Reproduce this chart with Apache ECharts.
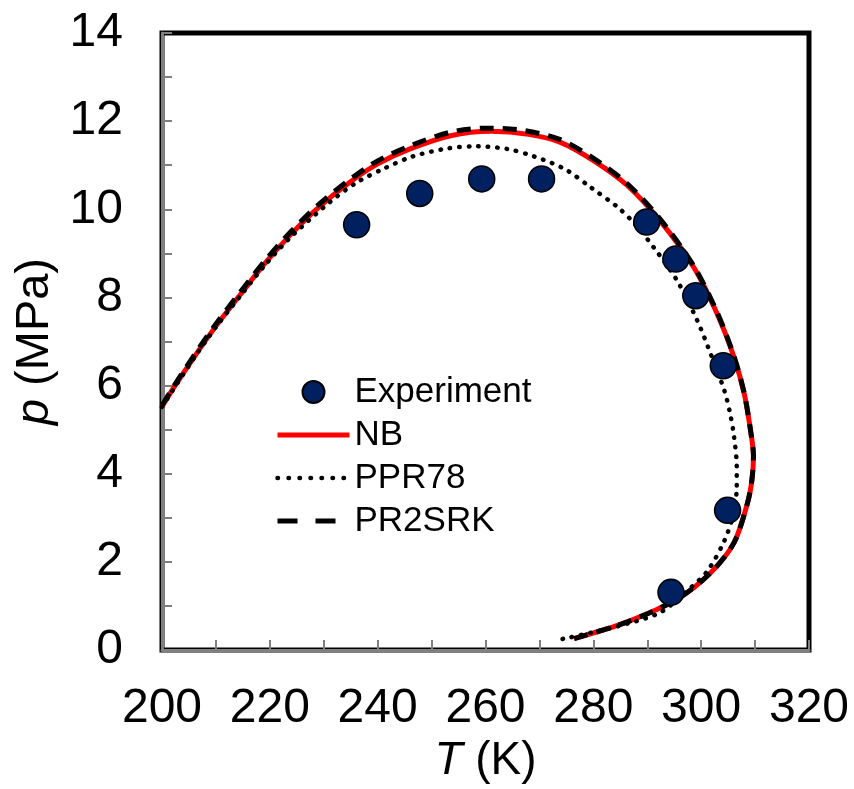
<!DOCTYPE html>
<html>
<head>
<meta charset="utf-8">
<script src="https://cdn.jsdelivr.net/npm/echarts@6/dist/echarts.min.js"></script>
<style>
html,body{margin:0;padding:0;background:#fff;}
#chart{width:854px;height:789px;}
</style>
</head>
<body>
<div id="chart"></div>
<script>
// Experimental points [T (K), p (MPa)]
const experiment = [
  [236.1, 9.65], [247.8, 10.36], [259.3, 10.69], [270.4, 10.69],
  [289.9, 9.71], [295.3, 8.87], [299.0, 8.04], [304.1, 6.45],
  [304.9, 3.17], [294.4, 1.31]
];
// NB model
const nb = [
  [200.0, 5.52], [202.0, 5.92], [205.8, 6.62], [210.0, 7.35], [214.5, 8.06],
  [219.0, 8.76], [223.8, 9.42], [229.0, 10.04], [234.9, 10.62], [240.0, 11.03],
  [246.0, 11.37], [253.5, 11.67], [261.0, 11.77], [268.0, 11.70], [273.9, 11.52],
  [280.1, 11.10], [286.3, 10.54], [292.5, 9.72], [298.7, 8.67], [303.0, 7.62],
  [306.1, 6.64], [308.0, 5.81], [309.2, 4.95], [309.7, 4.40], [309.4, 3.85],
  [308.6, 3.34], [306.1, 2.44], [301.8, 1.76], [295.6, 1.16], [286.3, 0.64],
  [276.4, 0.26]
];
// PPR78 model
const ppr78 = [
  [200.0, 5.52], [205.8, 6.60], [210.0, 7.33], [214.5, 8.03], [219.0, 8.72],
  [223.8, 9.36], [231.2, 10.17], [236.0, 10.60], [241.1, 10.92], [246.5, 11.20],
  [252.9, 11.38], [258.0, 11.43], [264.0, 11.37], [269.0, 11.20], [274.6, 10.92],
  [279.5, 10.50], [284.5, 10.05], [287.6, 9.68], [291.3, 9.12], [295.6, 8.37],
  [299.3, 7.47], [301.8, 6.71], [304.3, 5.89], [305.4, 5.35], [306.1, 4.84],
  [306.6, 4.16], [306.6, 3.71], [306.0, 3.10], [304.3, 2.48], [301.2, 1.80],
  [298.1, 1.42], [292.5, 0.86], [286.3, 0.60], [280.1, 0.41], [274.6, 0.26],
  [273.4, 0.24]
];
// PR2SRK model
const pr2srk = [
  [200.0, 5.55], [202.0, 5.95], [205.8, 6.66], [210.0, 7.40], [214.5, 8.12],
  [219.0, 8.82], [223.8, 9.48], [229.0, 10.10], [234.9, 10.68], [240.0, 11.10],
  [246.0, 11.44], [253.5, 11.75], [260.0, 11.84], [267.0, 11.79], [273.9, 11.58],
  [280.1, 11.15], [286.3, 10.58], [292.5, 9.76], [298.7, 8.70], [303.0, 7.65],
  [306.1, 6.66], [308.0, 5.82], [309.2, 4.95], [309.7, 4.40], [309.4, 3.85],
  [308.6, 3.34], [306.1, 2.44], [301.8, 1.76], [295.6, 1.16], [286.3, 0.64],
  [276.4, 0.26]
];
const xTicks = { min: 200, max: 320, interval: 20 };
const yTicks = { min: 0, max: 14, interval: 2 };

const FONT = '"Liberation Sans", Arial, sans-serif';
const hidden = { color: 'rgba(0,0,0,0)', borderWidth: 0, opacity: 0 };
const chart = echarts.init(document.getElementById('chart'), null, { renderer: 'canvas' });
chart.setOption({
  animation: false,
  backgroundColor: '#fff',
  grid: {
    left: 162, right: 45, top: 33, bottom: 134,
    show: true, borderColor: '#000', borderWidth: 5, backgroundColor: 'transparent'
  },
  legend: {
    orient: 'vertical',
    left: 270, top: 369,
    itemWidth: 72, itemHeight: 22, itemGap: 7,
    textStyle: { fontFamily: FONT, fontSize: 35, color: '#000', lineHeight: 36 },
    data: [
      { name: 'Experiment' },
      { name: 'NB', itemStyle: hidden, lineStyle: { color: '#ff0000', width: 5 } },
      { name: 'PPR78', itemStyle: hidden, lineStyle: { color: '#000', width: 4.5, type: [0.5, 10.5], cap: 'round' } },
      { name: 'PR2SRK', itemStyle: hidden, lineStyle: { color: '#000', width: 5, type: [20, 18] } }
    ]
  },
  xAxis: {
    type: 'value', min: xTicks.min, max: xTicks.max, interval: xTicks.interval,
    name: '{i|T} (K)', nameLocation: 'middle', nameGap: 85,
    nameTextStyle: { fontFamily: FONT, fontSize: 46, color: '#000',
      rich: { i: { fontFamily: FONT, fontSize: 46, fontStyle: 'italic', color: '#000' } } },
    axisLine: { show: true, onZero: false, lineStyle: { color: '#808080', width: 3 } },
    axisTick: { show: true, inside: true, length: 10, lineStyle: { color: '#808080', width: 2 } },
    minorTick: { show: true, splitNumber: 2, length: 10, lineStyle: { color: '#808080', width: 2 } },
    axisLabel: { fontFamily: FONT, fontSize: 48, color: '#000', margin: 35 },
    splitLine: { show: false }
  },
  yAxis: {
    type: 'value', min: yTicks.min, max: yTicks.max, interval: yTicks.interval,
    name: '{i|p} (MPa)', nameLocation: 'middle', nameGap: 99, nameRotate: 90,
    nameTextStyle: { fontFamily: FONT, fontSize: 47, color: '#000',
      rich: { i: { fontFamily: FONT, fontSize: 47, fontStyle: 'italic', color: '#000' } } },
    axisLine: { show: true, onZero: false, lineStyle: { color: '#808080', width: 3 } },
    axisTick: { show: true, inside: true, length: 10, lineStyle: { color: '#808080', width: 2 } },
    minorTick: { show: true, splitNumber: 2, length: 10, lineStyle: { color: '#808080', width: 2 } },
    axisLabel: { fontFamily: FONT, fontSize: 48, color: '#000', margin: 39 },
    splitLine: { show: false }
  },
  series: [
    {
      name: 'Experiment', type: 'scatter', data: experiment, z: 10,
      symbol: 'circle', symbolSize: 26,
      itemStyle: { color: '#002060', borderColor: '#000', borderWidth: 1.5, opacity: 1 }
    },
    {
      name: 'NB', type: 'line', data: nb, smooth: 0.3, showSymbol: false, symbol: 'none', z: 2,
      lineStyle: { color: '#ff0000', width: 5 },
      itemStyle: { color: '#ff0000' }
    },
    {
      name: 'PPR78', type: 'line', data: ppr78, smooth: 0.3, showSymbol: false, symbol: 'none', z: 3,
      lineStyle: { color: '#000', width: 4.5, type: [0.5, 9], cap: 'round' },
      itemStyle: { color: '#000' }
    },
    {
      name: 'PR2SRK', type: 'line', data: pr2srk, smooth: 0.3, showSymbol: false, symbol: 'none', z: 4,
      lineStyle: { color: '#000', width: 5, type: [14, 9] },
      itemStyle: { color: '#000' }
    }
  ]
});
</script>
</body>
</html>
